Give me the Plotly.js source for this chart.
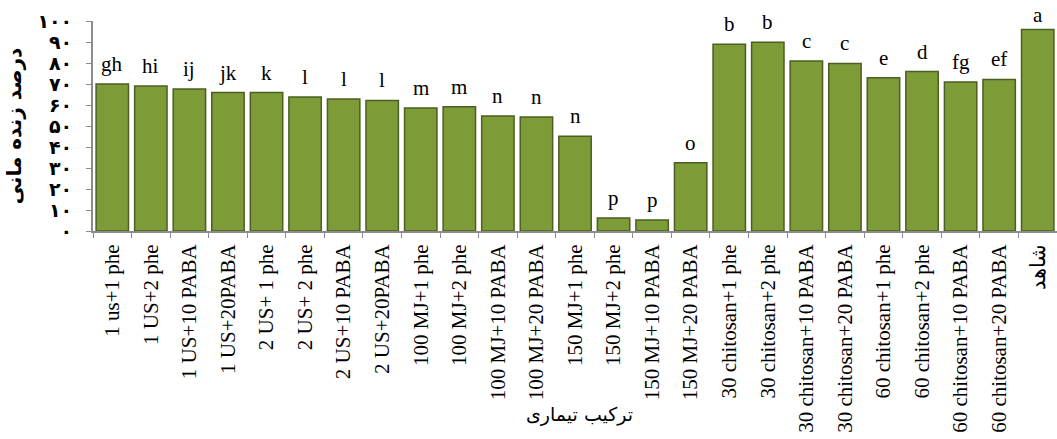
<!DOCTYPE html>
<html>
<head>
<meta charset="utf-8">
<script src="https://cdn.plot.ly/plotly-3.0.1.min.js"></script>
<style>html,body{margin:0;padding:0;background:#fff;}#chart{width:1057px;height:439px;}</style>
</head>
<body>
<div id="chart"></div>
<script>
const categories = [
  "1 us+1 phe", "1 US+2 phe", "1 US+10 PABA", "1 US+20PABA",
  "2 US+ 1 phe", "2 US+ 2 phe", "2 US+10 PABA", "2 US+20PABA",
  "100 MJ+1 phe", "100 MJ+2 phe", "100 MJ+10 PABA", "100 MJ+20 PABA",
  "150 MJ+1 phe", "150 MJ+2 phe", "150 MJ+10 PABA", "150 MJ+20 PABA",
  "30 chitosan+1 phe", "30 chitosan+2 phe", "30 chitosan+10 PABA", "30 chitosan+20 PABA",
  "60 chitosan+1 phe", "60 chitosan+2 phe", "60 chitosan+10 PABA", "60 chitosan+20 PABA",
  "شاهد"
];
const survival = [
  70, 69, 67.6, 65.9,
  65.9, 63.8, 62.9, 62.2,
  58.6, 59.2, 54.8, 54.3,
  45.1, 6.2, 5.2, 32.5,
  88.9, 89.9, 81, 79.8,
  73, 75.9, 71, 72.2,
  96
];
const letters = [
  "gh", "hi", "ij", "jk",
  "k", "l", "l", "l",
  "m", "m", "n", "n",
  "n", "p", "p", "o",
  "b", "b", "c", "c",
  "e", "d", "fg", "ef",
  "a"
];
const yTickVals = [0, 10, 20, 30, 40, 50, 60, 70, 80, 90, 100];
const yTickText = ["۰", "۱۰", "۲۰", "۳۰", "۴۰", "۵۰", "۶۰", "۷۰", "۸۰", "۹۰", "۱۰۰"];
const xTitle = "ترکیب تیماری";
const yTitle = "درصد زنده مانی";

const serif = "Liberation Serif, Times New Roman, serif";

const trace = {
  type: "bar",
  x: categories,
  y: survival,
  marker: {color: "#7d9c38", line: {color: "#4b5f22", width: 1.5}},
  hoverinfo: "x+y"
};

const annotations = categories.map((c, i) => ({
  x: c, y: survival[i], xref: "x", yref: "y",
  text: letters[i], showarrow: false,
  yanchor: "bottom", yshift: survival[i] > 93 ? 0 : 6,
  font: {family: serif, size: 21, color: "#000"}
}));
annotations.push({
  xref: "paper", yref: "paper", x: 0.505, y: -0.876,
  xanchor: "center", yanchor: "middle", showarrow: false,
  text: xTitle,
  font: {family: "DejaVu Sans, sans-serif", size: 19, color: "#000"}
});

const layout = {
  width: 1057, height: 439,
  margin: {l: 93, r: 0, t: 21, b: 208},
  paper_bgcolor: "#fff", plot_bgcolor: "#fff",
  showlegend: false,
  bargap: 0.16,
  xaxis: {
    type: "category",
    tickangle: -90,
    ticks: "outside", tickson: "boundaries", ticklen: 5, tickcolor: "#8c8c8c",
    showline: true, linecolor: "#8c8c8c", linewidth: 2,
    ticklabelstandoff: 3,
    tickfont: {family: serif, size: 21, color: "#000"},
    automargin: false
  },
  yaxis: {
    range: [0, 100],
    tickvals: yTickVals, ticktext: yTickText,
    ticks: "outside", ticklen: 5, tickcolor: "#8c8c8c",
    showline: true, linecolor: "#8c8c8c", linewidth: 2,
    showgrid: false, zeroline: false,
    ticklabelstandoff: 10,
    tickfont: {family: "DejaVu Sans, sans-serif", size: 19, color: "#000", weight: "bold"},
    automargin: false,
    title: {text: yTitle, standoff: 10, font: {family: "DejaVu Sans, sans-serif", size: 20, color: "#000", weight: "bold"}}
  },
  annotations: annotations
};

Plotly.newPlot("chart", [trace], layout, {displayModeBar: false, staticPlot: true});
</script>
</body>
</html>
